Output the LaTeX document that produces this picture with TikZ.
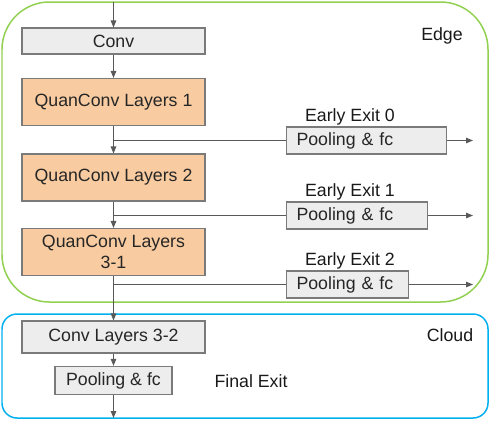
\documentclass[tikz,border=0pt]{standalone}
\usepackage{fontspec}
\setmainfont{Liberation Sans}
\usepackage{tikz}
\usetikzlibrary{arrows.meta, positioning}

\definecolor{linegray}{HTML}{595959}
\definecolor{boxgray}{HTML}{EDEDED}
\definecolor{quanorange}{HTML}{F8CBA0}
\definecolor{edgegreen}{HTML}{92D050}
\definecolor{cloudblue}{HTML}{00B0F0}

\tikzset{
	layer/.style={draw=linegray!80, semithick, rectangle, minimum width=3.66cm,
	font=\fontsize{10.1}{12}\selectfont, text=black!85},
	convbox/.style={layer, fill=boxgray, minimum height=0.52cm},
	quanbox/.style={layer, fill=quanorange, minimum height=0.94cm, align=center},
	poolbox/.style={draw=linegray!80, semithick, rectangle, fill=boxgray, anchor=west,
	minimum height=0.54cm, align=left, inner xsep=0.2cm, inner ysep=2pt,
	font=\fontsize{10.1}{12}\selectfont, text=black!85},
	tag/.style={anchor=base, inner sep=0pt, font=\fontsize{10.1}{12}\selectfont, text=black!90},
	flow/.style={draw=linegray, semithick, -{Triangle[length=0.14cm, width=0.11cm]}},
	branch/.style={draw=linegray, semithick}
}

\begin{document}
\begin{tikzpicture}[x=0.02cm, y=-0.02cm]
			\useasboundingbox (0,0) rectangle (490,420);

			% edge and cloud areas
			\draw [edgegreen, line width=0.85pt, rounded corners=0.95cm] (2,2) rectangle (488,302);
			\draw [cloudblue, line width=0.85pt, rounded corners=0.3cm] (2,314) rectangle (488,418);
			\node (edge) [tag] at (442,40) {Edge};
			\node (cloud) [tag] at (450,341) {Cloud};

			% main path
			\coordinate (in) at (113.5,2);
			\node (conv) [convbox] at (113.5,41) {Conv};
			\node (quan1) [quanbox] at (113.5,102) {QuanConv Layers 1};
			\node (quan2) [quanbox] at (113.5,177.5) {QuanConv Layers 2};
			\node (quan3) [quanbox] at (113.5,252) {QuanConv Layers\\3-1};
			\node (conv32) [convbox, minimum height=0.64cm] at (113.5,337) {Conv Layers 3-2};
			\node (poolF) [convbox, minimum width=2.34cm, minimum height=0.54cm] at (113.5,380.5) {Pooling \& fc};
			\coordinate (out) at (113.5,418);
			\node (final) [tag] at (251,387) {Final Exit};

			% early exits
			\node (pool0) [poolbox, text width=2.8cm] at (286,140.5) {Pooling \& fc};
			\node (pool1) [poolbox, text width=2.42cm] at (286,215.5) {Pooling \& fc};
			\node (pool2) [poolbox, text width=2.04cm] at (286,284.5) {Pooling \& fc};
			\node (exit0) [tag] at (350,121) {Early Exit 0};
			\node (exit1) [tag] at (350,196) {Early Exit 1};
			\node (exit2) [tag] at (350,265) {Early Exit 2};
			\coordinate (b0) at (quan1.south |- pool0.west);
			\coordinate (b1) at (quan2.south |- pool1.west);
			\coordinate (b2) at (quan3.south |- pool2.west);
			\coordinate (e0) at (473,140.5);
			\coordinate (e1) at (473,215.5);
			\coordinate (e2) at (473,284.5);

			\draw [flow] (in) -- (conv);
			\draw [flow] (conv) -- (quan1);
			\draw [flow] (quan1) -- (quan2);
			\draw [flow] (quan2) -- (quan3);
			\draw [flow] (quan3) -- (conv32);
			\draw [flow] (conv32) -- (poolF);
			\draw [flow] (poolF) -- (out);

			\draw [branch] (b0) -- (pool0);
			\draw [branch] (b1) -- (pool1);
			\draw [branch] (b2) -- (pool2);
			\draw [flow] (pool0) -- (e0);
			\draw [flow] (pool1) -- (e1);
			\draw [flow] (pool2) -- (e2);
		\end{tikzpicture}
\end{document}
